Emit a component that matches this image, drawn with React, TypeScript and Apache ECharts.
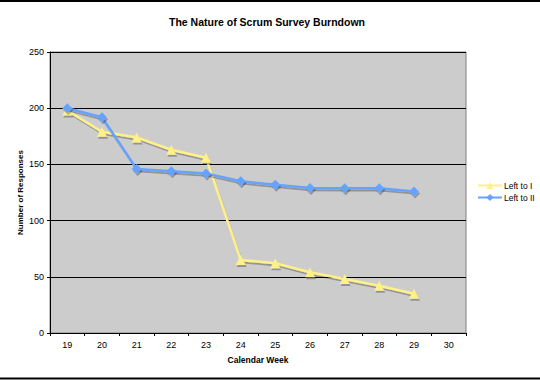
import React, { useEffect, useRef } from "react";
import * as echarts from "echarts";

const weeks = ["19", "20", "21", "22", "23", "24", "25", "26", "27", "28", "29", "30"];
const leftToI = [198, 179, 174, 163, 156, 65, 62, 54, 48, 42, 35];
const leftToII = [200, 192, 146, 144, 142, 135, 132, 129, 128.7, 128.7, 126];
const FONT = "Liberation Sans";

export default function App() {
  const ref = useRef<HTMLDivElement>(null);
  useEffect(() => {
    if (!ref.current) return;
    const chart = echarts.init(ref.current, null, { renderer: "svg" });
    const shadow = {
      shadowColor: "rgba(0,0,0,0.28)",
      shadowOffsetX: 1,
      shadowOffsetY: 2,
      shadowBlur: 1,
    };
    chart.setOption({
      animation: false,
      backgroundColor: "#ffffff",
      textStyle: { fontFamily: FONT },
      title: {
        text: "The Nature of Scrum Survey Burndown",
        left: 262,
        top: 11,
        textAlign: "center",
        textStyle: { fontFamily: FONT, fontSize: 10.5, fontWeight: "bold", color: "#000" },
      },
      legend: {
        orient: "vertical",
        left: 477,
        top: 181,
        itemWidth: 24,
        itemHeight: 9,
        itemGap: 3,
        padding: 0,
        textStyle: { fontFamily: FONT, fontSize: 8.5, color: "#000", padding: [0, 0, 0, -3] },
        data: ["Left to I", "Left to II"],
      },
      grid: {
        left: 50,
        top: 52,
        width: 416,
        height: 281,
        show: true,
        backgroundColor: "#cccccc",
        borderColor: "#808080",
        borderWidth: 1,
      },
      xAxis: {
        type: "category",
        data: weeks,
        boundaryGap: true,
        name: "Calendar Week",
        nameLocation: "middle",
        nameGap: 22,
        nameMoveOverlap: false,
        nameTextStyle: { fontFamily: FONT, fontSize: 8.5, fontWeight: "bold", color: "#000" },
        axisLine: { lineStyle: { color: "#000", width: 1 } },
        axisTick: { show: true, length: 3, lineStyle: { color: "#000" } },
        axisLabel: { fontFamily: FONT, fontSize: 9, color: "#000", margin: 7 },
        splitLine: { show: false },
      },
      yAxis: {
        type: "value",
        min: 0,
        max: 250,
        interval: 50,
        name: "Number of Responses",
        nameLocation: "middle",
        nameGap: 26,
        nameMoveOverlap: false,
        nameTextStyle: { fontFamily: FONT, fontSize: 8, fontWeight: "bold", color: "#000" },
        axisLine: { show: true, lineStyle: { color: "#000", width: 1 } },
        axisTick: { show: true, length: 3, lineStyle: { color: "#000" } },
        axisLabel: { fontFamily: FONT, fontSize: 9, color: "#000", margin: 6 },
        splitLine: { show: true, lineStyle: { color: "#000", width: 1 } },
      },
      series: [
        {
          name: "Left to I",
          type: "line",
          data: leftToI,
          symbol: "triangle",
          symbolSize: 10,
          color: "#fff18a",
          lineStyle: { width: 2.5, color: "#fff18a", ...shadow },
          itemStyle: { color: "#fff18a", ...shadow },
          z: 2,
        },
        {
          name: "Left to II",
          type: "line",
          data: leftToII,
          symbol: "diamond",
          symbolSize: 10,
          color: "#66a3ff",
          lineStyle: { width: 2.5, color: "#66a3ff", ...shadow },
          itemStyle: { color: "#66a3ff", ...shadow },
          z: 3,
        },
      ],
      graphic: [
        { type: "line", shape: { x1: 0, y1: 1, x2: 540, y2: 1 }, style: { stroke: "#000", lineWidth: 2 } },
        { type: "line", shape: { x1: 0, y1: 378.5, x2: 540, y2: 378.5 }, style: { stroke: "#000", lineWidth: 2 } },
      ],
    });
    return () => chart.dispose();
  }, []);
  return (
    <div
      ref={ref}
      style={{ position: "fixed", left: 0, top: 0, width: 540, height: 380 }}
    />
  );
}
